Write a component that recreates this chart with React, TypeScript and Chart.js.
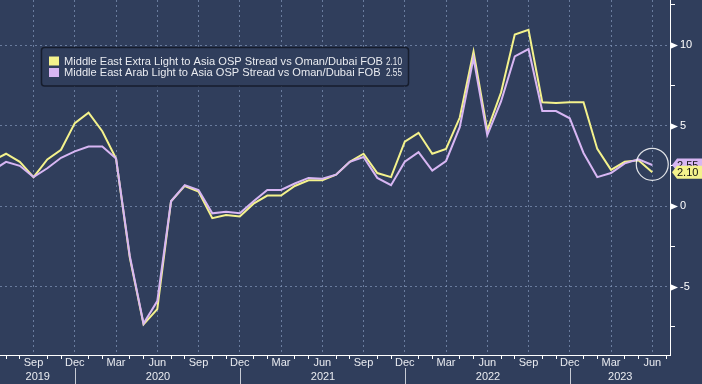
import { useEffect, useRef } from 'react';
import { Chart, registerables } from 'chart.js';

Chart.register(...registerables);

// ---------- data ----------
const periods = [
  'Jun 2019', 'Jul 2019', 'Aug 2019', 'Sep 2019', 'Oct 2019', 'Nov 2019', 'Dec 2019',
  'Jan 2020', 'Feb 2020', 'Mar 2020', 'Apr 2020', 'May 2020', 'Jun 2020', 'Jul 2020', 'Aug 2020', 'Sep 2020', 'Oct 2020', 'Nov 2020', 'Dec 2020',
  'Jan 2021', 'Feb 2021', 'Mar 2021', 'Apr 2021', 'May 2021', 'Jun 2021', 'Jul 2021', 'Aug 2021', 'Sep 2021', 'Oct 2021', 'Nov 2021', 'Dec 2021',
  'Jan 2022', 'Feb 2022', 'Mar 2022', 'Apr 2022', 'May 2022', 'Jun 2022', 'Jul 2022', 'Aug 2022', 'Sep 2022', 'Oct 2022', 'Nov 2022', 'Dec 2022',
  'Jan 2023', 'Feb 2023', 'Mar 2023', 'Apr 2023', 'May 2023', 'Jun 2023',
];

const extraLight = [
  2.8, 3.25, 2.75, 1.8, 2.9, 3.5, 5.15,
  5.8, 4.65, 2.95, -3.2, -7.35, -6.4, 0.3, 1.25, 0.9, -0.75, -0.55, -0.65,
  0.15, 0.65, 0.65, 1.25, 1.6, 1.6, 1.95, 2.75, 3.25, 2.05, 1.8, 4.0,
  4.55, 3.25, 3.55, 5.5, 9.6, 4.7, 7.05, 10.65, 10.95, 6.45, 6.4, 6.45,
  6.45, 3.55, 2.25, 2.75, 2.85, 2.1,
];

const arabLight = [
  2.2, 2.75, 2.5, 1.8, 2.35, 3.0, 3.4,
  3.7, 3.7, 2.95, -3.1, -7.3, -5.9, 0.3, 1.3, 1.0, -0.45, -0.35, -0.45,
  0.3, 1.0, 1.0, 1.4, 1.75, 1.7, 1.95, 2.75, 3.05, 1.75, 1.3, 2.75,
  3.35, 2.2, 2.8, 4.9, 9.2, 4.4, 6.5, 9.3, 9.75, 5.9, 5.9, 5.45,
  3.3, 1.8, 2.05, 2.65, 2.9, 2.55,
];

const seriesNames = [
  'Middle East Extra Light to Asia OSP Stread vs Oman/Dubai FOB',
  'Middle East Arab Light to Asia OSP Stread vs Oman/Dubai FOB',
];

const quarterMonths = ['Mar', 'Jun', 'Sep', 'Dec'];
const yMajorStep = 5;
const yMinorStep = 2.5;

// ---------- style ----------
const BG = '#303e5c';
const GRID = 'rgba(125,145,180,0.75)';
const AXIS = '#ffffff';
const TEXT = '#e9ebf0';
const YELLOW = '#f4f28c';
const PURPLE = '#d7b6f3';
const FONT = '"Liberation Sans", Arial, sans-serif';

const X_MIN = 0.56;
const X_MAX = 49.29;
const Y_MIN = -9.25;
const Y_MAX = 12.8;

const monthOf = (i: number) => (periods[i] ? periods[i].slice(0, 3) : '');
const yearOf = (i: number) => (periods[i] ? periods[i].slice(4) : '');
const isQuarter = (v: number) => Number.isInteger(v) && quarterMonths.includes(monthOf(v));
const isMajorY = (v: number) => Math.abs(v / yMajorStep - Math.round(v / yMajorStep)) < 1e-6;

const bbgPlugin = {
  id: 'bbg',
  beforeDraw(chart: any) {
    const { ctx, width, height } = chart;
    ctx.save();
    ctx.fillStyle = BG;
    ctx.fillRect(0, 0, width, height);
    ctx.restore();
  },
  afterDatasetsDraw(chart: any) {
    const ctx = chart.ctx as CanvasRenderingContext2D;
    const xs = chart.scales.x;
    const ys = chart.scales.y;
    const area = chart.chartArea;
    const last = periods.length - 1;

    ctx.save();
    // highlight circle around the latest points
    const cx = xs.getPixelForValue(last);
    const cy = ys.getPixelForValue((extraLight[last] + arabLight[last]) / 2 + 0.27);
    ctx.beginPath();
    ctx.arc(cx, cy, 16, 0, Math.PI * 2);
    ctx.strokeStyle = 'rgba(255,255,255,0.85)';
    ctx.lineWidth = 1.2;
    ctx.stroke();

    // legend box
    const bx = 41.5, by = 47.5, bw = 367, bh = 38.5, r = 3;
    ctx.beginPath();
    ctx.moveTo(bx + r, by);
    ctx.lineTo(bx + bw - r, by);
    ctx.quadraticCurveTo(bx + bw, by, bx + bw, by + r);
    ctx.lineTo(bx + bw, by + bh - r);
    ctx.quadraticCurveTo(bx + bw, by + bh, bx + bw - r, by + bh);
    ctx.lineTo(bx + r, by + bh);
    ctx.quadraticCurveTo(bx, by + bh, bx, by + bh - r);
    ctx.lineTo(bx, by + r);
    ctx.quadraticCurveTo(bx, by, bx + r, by);
    ctx.closePath();
    ctx.fillStyle = BG;
    ctx.fill();
    ctx.strokeStyle = '#161d2d';
    ctx.lineWidth = 1.5;
    ctx.stroke();

    ctx.font = `11px ${FONT}`;
    ctx.textBaseline = 'middle';
    const w1 = ctx.measureText(seriesNames[0]).width;
    const s = 319 / w1;
    const colors = [YELLOW, PURPLE];
    const lastVals = [extraLight[last], arabLight[last]];
    const rows = [61.5, 73];
    for (let k = 0; k < 2; k++) {
      ctx.fillStyle = colors[k];
      ctx.fillRect(49, rows[k] - 5, 10, 9);
      ctx.fillStyle = TEXT;
      ctx.save();
      ctx.translate(64, rows[k]);
      ctx.scale(s, 1);
      ctx.textAlign = 'left';
      ctx.fillText(seriesNames[k], 0, 0);
      ctx.restore();
      const vt = lastVals[k].toFixed(2);
      const vw = ctx.measureText(vt).width;
      ctx.save();
      ctx.translate(402, rows[k]);
      ctx.scale(16 / vw, 1);
      ctx.textAlign = 'right';
      ctx.fillText(vt, 0, 0);
      ctx.restore();
    }
    ctx.restore();
  },
  afterDraw(chart: any) {
    const ctx = chart.ctx as CanvasRenderingContext2D;
    const xs = chart.scales.x;
    const ys = chart.scales.y;
    const area = chart.chartArea;
    const last = periods.length - 1;
    ctx.save();

    // triangles on major y ticks
    ctx.fillStyle = AXIS;
    ys.ticks.forEach((t: any) => {
      if (!isMajorY(t.value)) return;
      const py = Math.round(ys.getPixelForValue(t.value)) + 0.5;
      ctx.beginPath();
      ctx.moveTo(area.right, py - 3.5);
      ctx.lineTo(area.right + 8, py);
      ctx.lineTo(area.right, py + 3.5);
      ctx.closePath();
      ctx.fill();
    });

    // year separators and year labels
    const decs: number[] = [];
    periods.forEach((p, i) => { if (p.startsWith('Dec')) decs.push(i); });
    ctx.strokeStyle = '#c7cbd4';
    ctx.lineWidth = 1;
    const sepX = decs.map((i) => Math.round(xs.getPixelForValue(i)) + 0.5);
    sepX.forEach((px) => {
      ctx.beginPath();
      ctx.moveTo(px, 368);
      ctx.lineTo(px, chart.height);
      ctx.stroke();
    });
    const bounds = [area.left, ...sepX, area.right];
    const yearStarts = [0, ...decs.map((i) => i + 1)];
    ctx.font = `11px ${FONT}`;
    ctx.fillStyle = TEXT;
    ctx.textAlign = 'center';
    ctx.textBaseline = 'middle';
    for (let k = 0; k < bounds.length - 1; k++) {
      const yr = yearOf(Math.min(yearStarts[k], last));
      ctx.fillText(yr, (bounds[k] + bounds[k + 1]) / 2, 376.5);
    }

    // value tags on right axis
    const tags = [
      { v: arabLight[last], c: PURPLE },
      { v: extraLight[last], c: YELLOW },
    ];
    tags.forEach((tg) => {
      const py = ys.getPixelForValue(tg.v);
      const x0 = area.right + 2;
      ctx.beginPath();
      ctx.moveTo(x0, py);
      ctx.lineTo(x0 + 5, py - 6.5);
      ctx.lineTo(chart.width, py - 6.5);
      ctx.lineTo(chart.width, py + 6.5);
      ctx.lineTo(x0 + 5, py + 6.5);
      ctx.closePath();
      ctx.fillStyle = tg.c;
      ctx.fill();
      ctx.fillStyle = '#111111';
      ctx.textAlign = 'left';
      ctx.fillText(tg.v.toFixed(2), x0 + 5, py + 0.5);
    });
    ctx.restore();
  },
};

export default function App() {
  const ref = useRef<HTMLCanvasElement>(null);

  useEffect(() => {
    if (!ref.current) return;
    const chart = new Chart(ref.current, {
      type: 'line',
      data: {
        datasets: [
          {
            label: seriesNames[0],
            data: extraLight.map((v, i) => ({ x: i, y: v })),
            borderColor: YELLOW,
            borderWidth: 2,
            pointRadius: 0,
            tension: 0,
            order: 1,
          },
          {
            label: seriesNames[1],
            data: arabLight.map((v, i) => ({ x: i, y: v })),
            borderColor: PURPLE,
            borderWidth: 2,
            pointRadius: 0,
            tension: 0,
            order: 0,
          },
        ],
      },
      options: {
        animation: false,
        responsive: false,
        events: [],
        layout: { padding: 0 },
        font: { family: FONT },
        plugins: {
          legend: { display: false },
          tooltip: { enabled: false },
        },
        scales: {
          x: {
            type: 'linear',
            position: 'bottom',
            min: X_MIN,
            max: X_MAX,
            afterFit: (sc: any) => {
              sc.height = 29;
              sc.paddingLeft = 0;
              sc.paddingRight = 0;
            },
            ticks: {
              stepSize: 1,
              autoSkip: false,
              includeBounds: false,
              maxRotation: 0,
              minRotation: 0,
              padding: -3,
              color: TEXT,
              font: { family: FONT, size: 11 },
              callback: (v: any) => (isQuarter(Number(v)) ? monthOf(Number(v)) : ''),
            },
            grid: {
              color: (c: any) => (c.tick && isQuarter(c.tick.value) ? GRID : 'rgba(0,0,0,0)'),
              lineWidth: 1,
              drawTicks: true,
              tickLength: 4,
              tickColor: (c: any) => (c.tick && isQuarter(c.tick.value) ? 'rgba(0,0,0,0)' : AXIS),
              tickWidth: 1,
            },
            border: { display: true, color: AXIS, width: 1, dash: [2, 3] },
          },
          y: {
            type: 'linear',
            position: 'right',
            min: Y_MIN,
            max: Y_MAX,
            afterFit: (sc: any) => {
              sc.width = 32;
              sc.paddingTop = 0;
              sc.paddingBottom = 0;
            },
            ticks: {
              stepSize: yMinorStep,
              includeBounds: false,
              padding: 5,
              color: '#ffffff',
              font: { family: FONT, size: 11 },
              callback: (v: any) => (isMajorY(Number(v)) ? String(Math.round(Number(v))) : ''),
            },
            grid: {
              color: (c: any) => (c.tick && isMajorY(c.tick.value) ? GRID : 'rgba(0,0,0,0)'),
              lineWidth: 1,
              drawTicks: true,
              tickLength: 5,
              tickColor: (c: any) => (c.tick && isMajorY(c.tick.value) ? 'rgba(0,0,0,0)' : AXIS),
              tickWidth: 1,
            },
            border: { display: true, color: AXIS, width: 1, dash: [2, 3] },
          },
        },
      } as any,
      plugins: [bbgPlugin],
    });
    return () => chart.destroy();
  }, []);

  return (
    <div style={{ position: 'fixed', left: 0, top: 0, width: 702, height: 384, background: BG }}>
      <canvas ref={ref} width={702} height={384} style={{ display: 'block' }} />
    </div>
  );
}
